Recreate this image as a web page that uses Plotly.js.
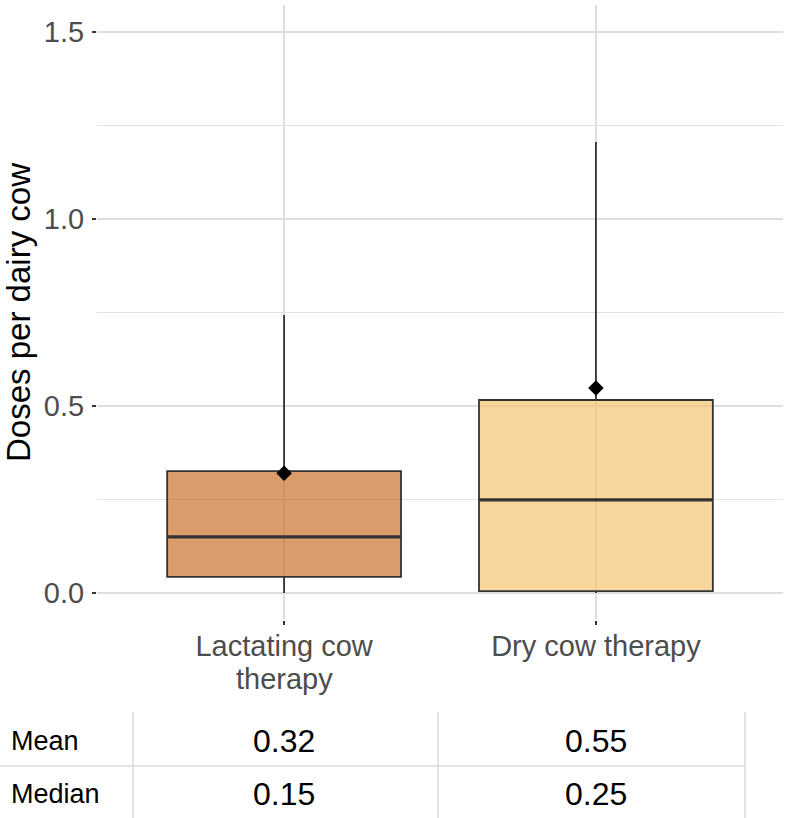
<!DOCTYPE html>
<html>
<head>
<meta charset="utf-8">
<script src="https://cdn.plot.ly/plotly-3.0.1.min.js"></script>
<style>
html,body{margin:0;padding:0;background:#fff;}
#chart{width:785px;height:818px;}
</style>
</head>
<body>
<div id="chart"></div>
<script>
// ---- data ----
const categories = ["Lactating cow therapy", "Dry cow therapy"];
const tickLabels = ["Lactating cow\ntherapy", "Dry cow therapy"];
const lowerFence = [0.0, 0.0];
const q1 = [0.043, 0.005];
const medians = [0.15, 0.249];
const q3 = [0.326, 0.516];
const upperFence = [0.743, 1.206];
const means = [0.32, 0.548];
const tableRowLabels = ["Mean", "Median"];
const tableMean = [0.32, 0.55];
const tableMedian = [0.15, 0.25];
const fillColors = ["rgba(204,114,44,0.7)", "rgba(244,195,112,0.7)"];

const FONT = "Liberation Sans, Arial, Helvetica, sans-serif";

// ---- traces ----
const traces = [];
categories.forEach((c, i) => {
  traces.push({
    type: "box",
    x: [c],
    q1: [q1[i]], median: [medians[i]], q3: [q3[i]],
    lowerfence: [lowerFence[i]], upperfence: [upperFence[i]],
    width: 0.75,
    whiskerwidth: 0,
    fillcolor: fillColors[i],
    line: {color: "#333333", width: 1.8},
    boxpoints: false,
    hoverinfo: "skip",
    showlegend: false
  });
  // thicker median bar
  traces.push({
    type: "box",
    x: [c],
    q1: [medians[i]], median: [medians[i]], q3: [medians[i]],
    lowerfence: [medians[i]], upperfence: [medians[i]],
    width: 0.75,
    whiskerwidth: 0,
    fillcolor: "rgba(0,0,0,0)",
    line: {color: "#333333", width: 3.2},
    boxpoints: false,
    hoverinfo: "skip",
    showlegend: false
  });
});
traces.push({
  type: "scatter",
  mode: "markers",
  x: categories,
  y: means,
  marker: {symbol: "diamond", size: 12, color: "#000000"},
  hoverinfo: "skip",
  showlegend: false
});

// ---- geometry helpers ----
const L = 97, R = 783, T = 5, B = 620;
const PW = R - L, PH = B - T;
const px = v => (v - L) / PW;
const py = v => (B - v) / PH;

const annotations = [];

// x tick labels: first line as tick text, following lines as annotations (tighter line spacing)
const tickFirst = tickLabels.map(t => t.split("\n")[0]);
tickLabels.forEach((t, i) => {
  const rest = t.split("\n").slice(1);
  rest.forEach((line, k) => {
    annotations.push({
      xref: "x", yref: "paper",
      x: categories[i], y: py(679 + 29 * k),
      xanchor: "center", yanchor: "middle",
      text: line, showarrow: false,
      font: {family: FONT, size: 29, color: "#4D4D4D"}
    });
  });
});

// table
const rowY = [741, 794];
tableRowLabels.forEach((lab, r) => {
  annotations.push({
    xref: "paper", yref: "paper",
    x: px(9), y: py(rowY[r]),
    xanchor: "left", yanchor: "middle",
    text: lab, showarrow: false,
    font: {family: FONT, size: 27, color: "#000000"}
  });
});
const rowVals = [tableMean, tableMedian];
rowVals.forEach((vals, r) => {
  vals.forEach((v, i) => {
    annotations.push({
      xref: "x", yref: "paper",
      x: categories[i], y: py(rowY[r]),
      xanchor: "center", yanchor: "middle",
      text: v.toFixed(2), showarrow: false,
      font: {family: FONT, size: 32, color: "#000000"}
    });
  });
});

const lineStyle = {color: "#D9D9D9", width: 1.5};
const shapes = [];
[133, 438, 745].forEach(xv => {
  shapes.push({type: "line", xref: "paper", yref: "paper",
    x0: px(xv), x1: px(xv), y0: py(712), y1: py(818), line: lineStyle});
});
shapes.push({type: "line", xref: "paper", yref: "paper",
  x0: px(0), x1: px(745), y0: py(766), y1: py(766), line: lineStyle});

const layout = {
  width: 785, height: 818,
  margin: {l: L, r: 785 - R, t: T, b: 818 - B, pad: 0},
  paper_bgcolor: "#ffffff",
  plot_bgcolor: "#ffffff",
  boxmode: "overlay",
  showlegend: false,
  font: {family: FONT},
  xaxis: {
    type: "category",
    categoryorder: "array",
    categoryarray: categories,
    tickvals: categories,
    ticktext: tickFirst,
    range: [-0.6, 1.6],
    showgrid: true, gridcolor: "#DEDEDE", gridwidth: 1.3,
    zeroline: false, showline: false,
    ticks: "outside", ticklen: 4, tickwidth: 1.2, tickcolor: "#333333",
    ticklabelstandoff: -4,
    tickfont: {family: FONT, size: 29, color: "#4D4D4D"},
    fixedrange: true
  },
  yaxis: {
    range: [-0.0722, 1.572],
    tickvals: [0, 0.5, 1.0, 1.5],
    ticktext: ["0.0", "0.5", "1.0", "1.5"],
    showgrid: true, gridcolor: "#DEDEDE", gridwidth: 1.3,
    minor: {tickvals: [0.25, 0.75, 1.25], showgrid: true, gridcolor: "#E2E2E2", gridwidth: 1.2, ticks: ""},
    zeroline: false, showline: false,
    ticks: "outside", ticklen: 4, tickwidth: 1.2, tickcolor: "#333333",
    ticklabelstandoff: 2,
    tickfont: {family: FONT, size: 29, color: "#4D4D4D"},
    title: {text: "Doses per dairy cow", font: {family: FONT, size: 33, color: "#000000"}, standoff: 6},
    fixedrange: true
  },
  annotations: annotations,
  shapes: shapes
};

Plotly.newPlot("chart", traces, layout, {displayModeBar: false, staticPlot: true});
</script>
</body>
</html>
